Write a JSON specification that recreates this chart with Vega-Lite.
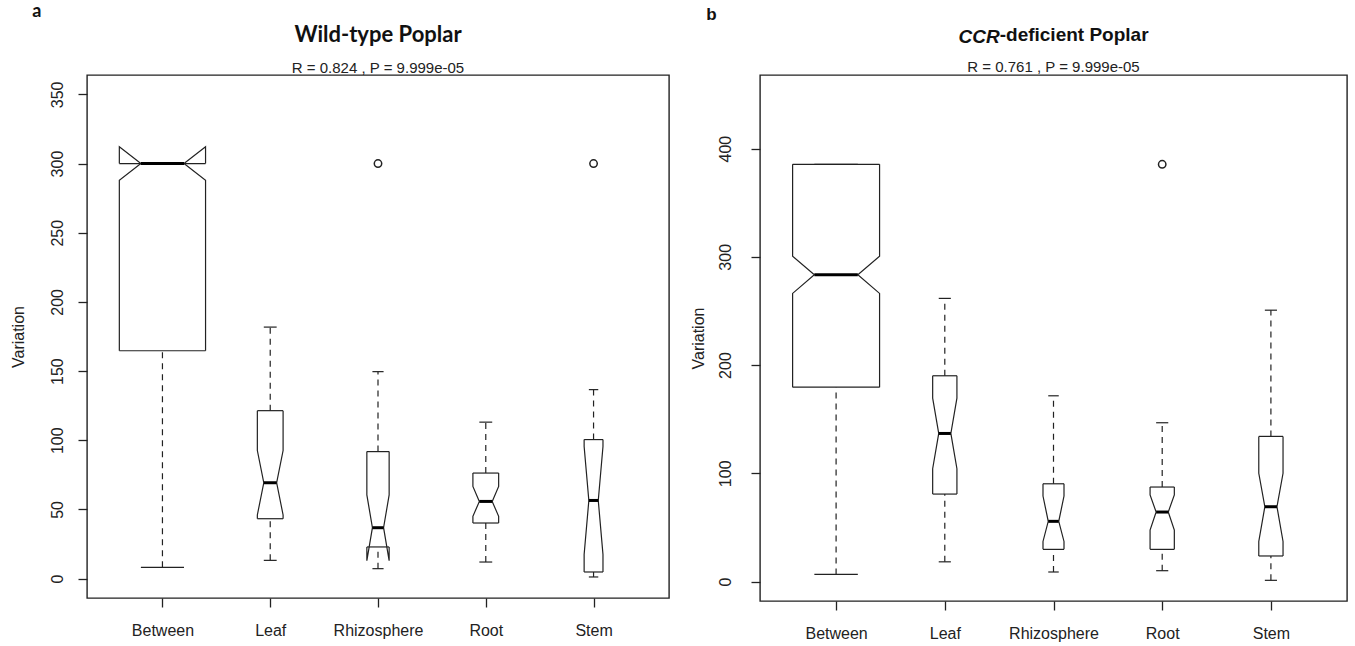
{
  "$schema": "https://vega.github.io/schema/vega-lite/v6.json",
  "background": "white",
  "padding": {"left": 9, "top": 3, "right": 0, "bottom": 0},
  "config": {
    "font": "Liberation Sans",
    "view": {"stroke": "#222", "strokeWidth": 1.4},
    "axis": {"grid": false, "domain": false, "tickColor": "#222", "tickSize": 9, "tickWidth": 1.3, "labelColor": "#222", "labelFontSize": 16, "labelFont": "Liberation Sans", "titleFont": "Liberation Sans", "titleFontWeight": "normal", "titleFontSize": 16, "titleColor": "#222"},
    "concat": {"spacing": 19}
  },
  "datasets": {
    "statsA": [
      {"group": "Between", "n": 314, "wlo": 8.2, "q1": 164.7, "nlo": 287.9, "med": 300.0, "nhi": 312.1, "q3": 300.0, "whi": 300.0},
      {"group": "Leaf", "n": 28, "wlo": 13.2, "q1": 43.3, "nlo": 46.0, "med": 69.3, "nhi": 92.6, "q3": 121.4, "whi": 181.8},
      {"group": "Rhizosphere", "n": 21, "wlo": 7.2, "q1": 22.9, "nlo": 13.0, "med": 36.8, "nhi": 60.5, "q3": 91.8, "whi": 149.6},
      {"group": "Root", "n": 28, "wlo": 12.0, "q1": 40.2, "nlo": 45.0, "med": 55.8, "nhi": 66.6, "q3": 76.3, "whi": 113.1},
      {"group": "Stem", "n": 15, "wlo": 1.2, "q1": 4.8, "nlo": 17.5, "med": 56.5, "nhi": 95.5, "q3": 100.5, "whi": 136.6}
    ],
    "outA": [
      {"group": "Rhizosphere", "value": 300},
      {"group": "Stem", "value": 300}
    ],
    "statsB": [
      {"group": "Between", "n": 360, "wlo": 6.6, "q1": 179.6, "nlo": 266.2, "med": 283.4, "nhi": 300.5, "q3": 385.5, "whi": 385.5},
      {"group": "Leaf", "n": 28, "wlo": 18.2, "q1": 80.8, "nlo": 104.2, "med": 136.8, "nhi": 169.4, "q3": 190.1, "whi": 261.6},
      {"group": "Rhizosphere", "n": 21, "wlo": 8.8, "q1": 29.7, "nlo": 37.0, "med": 55.6, "nhi": 79.0, "q3": 90.3, "whi": 171.6},
      {"group": "Root", "n": 28, "wlo": 10.0, "q1": 29.7, "nlo": 47.5, "med": 64.2, "nhi": 80.0, "q3": 87.3, "whi": 146.7},
      {"group": "Stem", "n": 28, "wlo": 1.1, "q1": 23.6, "nlo": 37.0, "med": 69.1, "nhi": 100.0, "q3": 134.1, "whi": 250.7}
    ],
    "outB": [
      {"group": "Root", "value": 385.5}
    ]
  },
  "hconcat": [
    {
      "title": {"text": "a", "anchor": "start", "frame": "bounds", "font": "Lato", "fontSize": 18, "fontWeight": "bold", "color": "#111", "dx": 23, "offset": 2},
      "vconcat": [
        {
          "width": 582,
          "height": 523,
          "title": {"text": "Wild-type Poplar", "subtitle": "R =  0.824 ,  P =  9.999e-05", "anchor": "middle", "font": "Lato", "fontSize": 22, "fontWeight": "bold", "color": "#111", "subtitleFont": "Liberation Sans", "subtitleFontSize": 15, "subtitleColor": "#222", "subtitlePadding": 14, "offset": -2},
          "data": {"name": "statsA"},
          "transform": [
            {"calculate": "indexof(['Between','Leaf','Rhizosphere','Root','Stem'], datum.group) + 1", "as": "pos"},
            {"joinaggregate": [{"op": "max", "field": "n", "as": "nmax"}]},
            {"calculate": "0.4 * sqrt(datum.n / datum.nmax)", "as": "hw"},
            {"calculate": "datum.pos - datum.hw", "as": "xl"},
            {"calculate": "datum.pos + datum.hw", "as": "xr"},
            {"calculate": "datum.pos - datum.hw / 2", "as": "xml"},
            {"calculate": "datum.pos + datum.hw / 2", "as": "xmr"}
          ],
          "layer": [
            {
              "mark": {"type": "rule", "strokeDash": [6, 5], "color": "#222", "strokeWidth": 1.2},
              "encoding": {
                "x": {"field": "pos", "type": "quantitative", "title": null, "scale": {"domain": [0.3, 5.7], "nice": false, "zero": false}, "axis": {"values": [1, 2, 3, 4, 5], "labelExpr": "['Between','Leaf','Rhizosphere','Root','Stem'][datum.value - 1]", "labelPadding": 15, "labelFlush": false, "labelOverlap": false}},
                "y": {"field": "wlo", "type": "quantitative", "title": "Variation", "scale": {"domain": [-14, 364], "nice": false, "zero": false}, "axis": {"values": [0, 50, 100, 150, 200, 250, 300, 350], "labelAngle": -90, "labelAlign": "center", "labelBaseline": "bottom", "labelPadding": 13, "titlePadding": 23}},
                "y2": {"field": "q1"}
              }
            },
            {
              "mark": {"type": "rule", "strokeDash": [6, 5], "color": "#222", "strokeWidth": 1.2},
              "encoding": {
                "x": {"field": "pos", "type": "quantitative", "title": null},
                "y": {"field": "q3", "type": "quantitative", "title": "Variation"},
                "y2": {"field": "whi"}
              }
            },
            {
              "mark": {"type": "rule", "color": "#222", "strokeWidth": 1.2},
              "encoding": {
                "x": {"field": "xml", "type": "quantitative", "title": null},
                "x2": {"field": "xmr"},
                "y": {"field": "wlo", "type": "quantitative", "title": "Variation"}
              }
            },
            {
              "mark": {"type": "rule", "color": "#222", "strokeWidth": 1.2},
              "encoding": {
                "x": {"field": "xml", "type": "quantitative", "title": null},
                "x2": {"field": "xmr"},
                "y": {"field": "whi", "type": "quantitative", "title": "Variation"}
              }
            },
            {
              "mark": {"type": "rule", "color": "#222", "strokeWidth": 1.2},
              "encoding": {
                "x": {"field": "xl", "type": "quantitative", "title": null},
                "x2": {"field": "xr"},
                "y": {"field": "q1", "type": "quantitative", "title": "Variation"}
              }
            },
            {
              "mark": {"type": "rule", "color": "#222", "strokeWidth": 1.2},
              "encoding": {
                "x": {"field": "xl", "type": "quantitative", "title": null},
                "x2": {"field": "xr"},
                "y": {"field": "q3", "type": "quantitative", "title": "Variation"}
              }
            },
            {
              "transform": [
                {"fold": ["q1", "nlo", "med", "nhi", "q3"], "as": ["k", "v"]},
                {"calculate": "indexof(['q1','nlo','med','nhi','q3'], datum.k)", "as": "ord"},
                {"calculate": "datum.k == 'med' ? datum.xml : datum.xl", "as": "xs"}
              ],
              "mark": {"type": "line", "color": "#222", "strokeWidth": 1.2},
              "encoding": {
                "x": {"field": "xs", "type": "quantitative", "title": null},
                "y": {"field": "v", "type": "quantitative", "title": "Variation"},
                "order": {"field": "ord", "type": "quantitative"},
                "detail": {"field": "group"}
              }
            },
            {
              "transform": [
                {"fold": ["q1", "nlo", "med", "nhi", "q3"], "as": ["k", "v"]},
                {"calculate": "indexof(['q1','nlo','med','nhi','q3'], datum.k)", "as": "ord"},
                {"calculate": "datum.k == 'med' ? datum.xmr : datum.xr", "as": "xs"}
              ],
              "mark": {"type": "line", "color": "#222", "strokeWidth": 1.2},
              "encoding": {
                "x": {"field": "xs", "type": "quantitative", "title": null},
                "y": {"field": "v", "type": "quantitative", "title": "Variation"},
                "order": {"field": "ord", "type": "quantitative"},
                "detail": {"field": "group"}
              }
            },
            {
              "mark": {"type": "rule", "color": "#000", "strokeWidth": 3},
              "encoding": {
                "x": {"field": "xml", "type": "quantitative", "title": null},
                "x2": {"field": "xmr"},
                "y": {"field": "med", "type": "quantitative", "title": "Variation"}
              }
            },
            {
              "data": {"name": "outA"},
              "transform": [
                {"calculate": "indexof(['Between','Leaf','Rhizosphere','Root','Stem'], datum.group) + 1", "as": "pos"}
              ],
              "mark": {"type": "point", "shape": "circle", "filled": false, "color": "#222", "size": 55, "strokeWidth": 1.5, "opacity": 1},
              "encoding": {
                "x": {"field": "pos", "type": "quantitative", "title": null},
                "y": {"field": "value", "type": "quantitative", "title": "Variation"}
              }
            }
          ]
        }
      ]
    },
    {
      "title": {"text": "b", "anchor": "start", "frame": "bounds", "font": "Liberation Sans", "fontSize": 17, "fontWeight": "bold", "color": "#111", "dx": 17, "offset": 2},
      "vconcat": [
        {
          "title": {"text": "CCR", "anchor": "end", "frame": "bounds", "align": "right", "dx": -348, "dy": 20.5, "font": "Liberation Sans", "fontSize": 19, "fontWeight": "bold", "fontStyle": "italic", "color": "#111", "offset": 0},
          "vconcat": [
            {
              "title": {"text": "-deficient Poplar", "anchor": "end", "frame": "bounds", "align": "left", "dx": -348, "font": "Liberation Sans", "fontSize": 19, "fontWeight": "bold", "color": "#111", "offset": 14},
              "vconcat": [
                {
                  "width": 587,
                  "height": 526,
                  "title": {"text": "R =  0.761 ,  P =  9.999e-05", "anchor": "middle", "font": "Liberation Sans", "fontSize": 15, "fontWeight": "normal", "color": "#222", "offset": 0},
                  "data": {"name": "statsB"},
                  "transform": [
                    {"calculate": "indexof(['Between','Leaf','Rhizosphere','Root','Stem'], datum.group) + 1", "as": "pos"},
                    {"joinaggregate": [{"op": "max", "field": "n", "as": "nmax"}]},
                    {"calculate": "0.4 * sqrt(datum.n / datum.nmax)", "as": "hw"},
                    {"calculate": "datum.pos - datum.hw", "as": "xl"},
                    {"calculate": "datum.pos + datum.hw", "as": "xr"},
                    {"calculate": "datum.pos - datum.hw / 2", "as": "xml"},
                    {"calculate": "datum.pos + datum.hw / 2", "as": "xmr"}
                  ],
                  "layer": [
                    {
                      "mark": {"type": "rule", "strokeDash": [6, 5], "color": "#222", "strokeWidth": 1.2},
                      "encoding": {
                        "x": {"field": "pos", "type": "quantitative", "title": null, "scale": {"domain": [0.3, 5.7], "nice": false, "zero": false}, "axis": {"values": [1, 2, 3, 4, 5], "labelExpr": "['Between','Leaf','Rhizosphere','Root','Stem'][datum.value - 1]", "labelPadding": 15, "labelFlush": false, "labelOverlap": false}},
                        "y": {"field": "wlo", "type": "quantitative", "title": "Variation", "scale": {"domain": [-18, 468], "nice": false, "zero": false}, "axis": {"values": [0, 100, 200, 300, 400], "labelAngle": -90, "labelAlign": "center", "labelBaseline": "bottom", "labelPadding": 18, "titlePadding": 11}},
                        "y2": {"field": "q1"}
                      }
                    },
                    {
                      "mark": {"type": "rule", "strokeDash": [6, 5], "color": "#222", "strokeWidth": 1.2},
                      "encoding": {
                        "x": {"field": "pos", "type": "quantitative", "title": null},
                        "y": {"field": "q3", "type": "quantitative", "title": "Variation"},
                        "y2": {"field": "whi"}
                      }
                    },
                    {
                      "mark": {"type": "rule", "color": "#222", "strokeWidth": 1.2},
                      "encoding": {
                        "x": {"field": "xml", "type": "quantitative", "title": null},
                        "x2": {"field": "xmr"},
                        "y": {"field": "wlo", "type": "quantitative", "title": "Variation"}
                      }
                    },
                    {
                      "mark": {"type": "rule", "color": "#222", "strokeWidth": 1.2},
                      "encoding": {
                        "x": {"field": "xml", "type": "quantitative", "title": null},
                        "x2": {"field": "xmr"},
                        "y": {"field": "whi", "type": "quantitative", "title": "Variation"}
                      }
                    },
                    {
                      "mark": {"type": "rule", "color": "#222", "strokeWidth": 1.2},
                      "encoding": {
                        "x": {"field": "xl", "type": "quantitative", "title": null},
                        "x2": {"field": "xr"},
                        "y": {"field": "q1", "type": "quantitative", "title": "Variation"}
                      }
                    },
                    {
                      "mark": {"type": "rule", "color": "#222", "strokeWidth": 1.2},
                      "encoding": {
                        "x": {"field": "xl", "type": "quantitative", "title": null},
                        "x2": {"field": "xr"},
                        "y": {"field": "q3", "type": "quantitative", "title": "Variation"}
                      }
                    },
                    {
                      "transform": [
                        {"fold": ["q1", "nlo", "med", "nhi", "q3"], "as": ["k", "v"]},
                        {"calculate": "indexof(['q1','nlo','med','nhi','q3'], datum.k)", "as": "ord"},
                        {"calculate": "datum.k == 'med' ? datum.xml : datum.xl", "as": "xs"}
                      ],
                      "mark": {"type": "line", "color": "#222", "strokeWidth": 1.2},
                      "encoding": {
                        "x": {"field": "xs", "type": "quantitative", "title": null},
                        "y": {"field": "v", "type": "quantitative", "title": "Variation"},
                        "order": {"field": "ord", "type": "quantitative"},
                        "detail": {"field": "group"}
                      }
                    },
                    {
                      "transform": [
                        {"fold": ["q1", "nlo", "med", "nhi", "q3"], "as": ["k", "v"]},
                        {"calculate": "indexof(['q1','nlo','med','nhi','q3'], datum.k)", "as": "ord"},
                        {"calculate": "datum.k == 'med' ? datum.xmr : datum.xr", "as": "xs"}
                      ],
                      "mark": {"type": "line", "color": "#222", "strokeWidth": 1.2},
                      "encoding": {
                        "x": {"field": "xs", "type": "quantitative", "title": null},
                        "y": {"field": "v", "type": "quantitative", "title": "Variation"},
                        "order": {"field": "ord", "type": "quantitative"},
                        "detail": {"field": "group"}
                      }
                    },
                    {
                      "mark": {"type": "rule", "color": "#000", "strokeWidth": 3},
                      "encoding": {
                        "x": {"field": "xml", "type": "quantitative", "title": null},
                        "x2": {"field": "xmr"},
                        "y": {"field": "med", "type": "quantitative", "title": "Variation"}
                      }
                    },
                    {
                      "data": {"name": "outB"},
                      "transform": [
                        {"calculate": "indexof(['Between','Leaf','Rhizosphere','Root','Stem'], datum.group) + 1", "as": "pos"}
                      ],
                      "mark": {"type": "point", "shape": "circle", "filled": false, "color": "#222", "size": 55, "strokeWidth": 1.5, "opacity": 1},
                      "encoding": {
                        "x": {"field": "pos", "type": "quantitative", "title": null},
                        "y": {"field": "value", "type": "quantitative", "title": "Variation"}
                      }
                    }
                  ]
                }
              ]
            }
          ]
        }
      ]
    }
  ]
}
